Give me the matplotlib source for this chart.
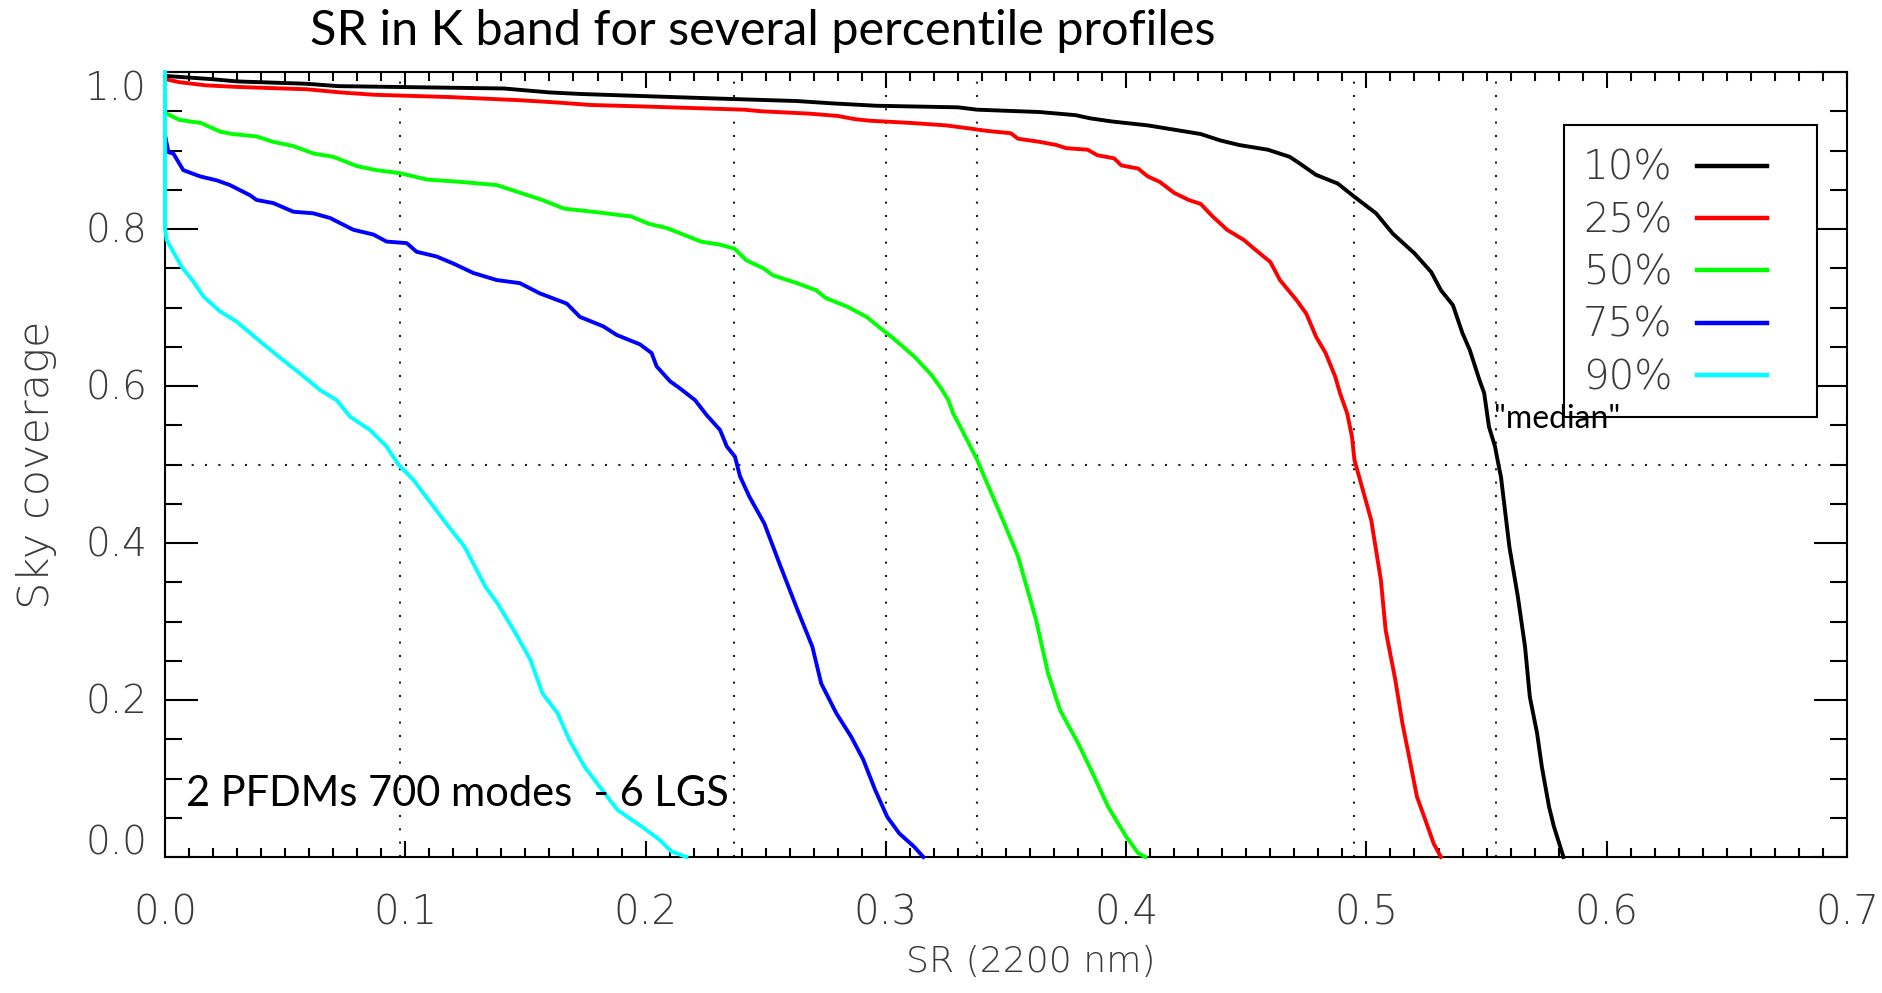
import matplotlib
matplotlib.use("Agg")
import matplotlib.pyplot as plt
from matplotlib.patches import Rectangle
from matplotlib.ticker import MultipleLocator

# Sky coverage vs Strehl ratio (K band), one curve per turbulence percentile profile
sr_10 = [0.0, 0.019, 0.030, 0.059, 0.072, 0.141, 0.160, 0.173, 0.202, 0.232, 0.263, 0.278,
         0.296, 0.330, 0.338, 0.364, 0.379, 0.385, 0.394, 0.409, 0.417, 0.431, 0.439, 0.447,
         0.459, 0.468, 0.472, 0.479, 0.488, 0.495, 0.504, 0.511, 0.520, 0.527, 0.531, 0.536,
         0.540, 0.543, 0.547, 0.549, 0.551, 0.5535, 0.555, 0.556, 0.5595, 0.563, 0.566, 0.568,
         0.571, 0.573, 0.576, 0.578, 0.582]
cov_10 = [0.995, 0.991, 0.988, 0.985, 0.982, 0.979, 0.974, 0.972, 0.969, 0.966, 0.963, 0.960,
          0.957, 0.955, 0.952, 0.949, 0.945, 0.941, 0.937, 0.932, 0.928, 0.921, 0.913, 0.907,
          0.901, 0.892, 0.884, 0.869, 0.858, 0.841, 0.820, 0.794, 0.769, 0.745, 0.722, 0.703,
          0.667, 0.646, 0.608, 0.591, 0.548, 0.523, 0.499, 0.484, 0.395, 0.332, 0.268, 0.204,
          0.158, 0.115, 0.064, 0.039, 0.0]

sr_25 = [0.0, 0.006, 0.017, 0.030, 0.059, 0.073, 0.087, 0.119, 0.148, 0.164, 0.177, 0.200,
         0.241, 0.248, 0.268, 0.280, 0.287, 0.293, 0.311, 0.325, 0.330, 0.335, 0.342, 0.352,
         0.355, 0.364, 0.371, 0.375, 0.384, 0.388, 0.395, 0.398, 0.405, 0.409, 0.414, 0.420,
         0.426, 0.431, 0.436, 0.442, 0.449, 0.454, 0.460, 0.464, 0.471, 0.475, 0.479, 0.483,
         0.487, 0.489, 0.492, 0.494, 0.495, 0.497, 0.502, 0.506, 0.508, 0.512, 0.515, 0.518,
         0.521, 0.525, 0.528, 0.531]
cov_25 = [0.991, 0.987, 0.983, 0.981, 0.978, 0.974, 0.971, 0.968, 0.964, 0.961, 0.958, 0.956,
          0.952, 0.950, 0.947, 0.944, 0.940, 0.938, 0.935, 0.932, 0.930, 0.928, 0.925, 0.922,
          0.915, 0.911, 0.907, 0.903, 0.901, 0.894, 0.890, 0.881, 0.877, 0.867, 0.860, 0.846,
          0.837, 0.832, 0.816, 0.799, 0.786, 0.773, 0.758, 0.735, 0.709, 0.692, 0.663, 0.642,
          0.612, 0.591, 0.565, 0.535, 0.506, 0.484, 0.429, 0.353, 0.289, 0.226, 0.170, 0.124,
          0.077, 0.043, 0.017, 0.0]

sr_50 = [0.0, 0.006, 0.015, 0.023, 0.028, 0.038, 0.045, 0.053, 0.062, 0.070, 0.080, 0.088,
         0.098, 0.109, 0.123, 0.138, 0.145, 0.157, 0.166, 0.178, 0.194, 0.201, 0.209, 0.214,
         0.223, 0.231, 0.237, 0.242, 0.249, 0.253, 0.263, 0.271, 0.275, 0.284, 0.292, 0.298,
         0.303, 0.312, 0.319, 0.323, 0.326, 0.328, 0.331, 0.3345, 0.338, 0.341, 0.3475, 0.355,
         0.3625, 0.3675, 0.3725, 0.380, 0.386, 0.3925, 0.400, 0.405, 0.408]
cov_50 = [0.948, 0.939, 0.935, 0.924, 0.921, 0.918, 0.911, 0.906, 0.896, 0.892, 0.880, 0.875,
          0.871, 0.863, 0.860, 0.856, 0.849, 0.837, 0.826, 0.822, 0.816, 0.807, 0.801, 0.795,
          0.784, 0.780, 0.775, 0.760, 0.750, 0.741, 0.731, 0.722, 0.712, 0.701, 0.688, 0.673,
          0.661, 0.637, 0.614, 0.597, 0.582, 0.565, 0.548, 0.527, 0.506, 0.484, 0.438, 0.383,
          0.302, 0.234, 0.187, 0.145, 0.107, 0.064, 0.026, 0.005, 0.0]

sr_75 = [0.0, 0.0014, 0.0035, 0.0076, 0.0146, 0.0215, 0.027, 0.0354, 0.0381, 0.0451, 0.0534,
         0.0617, 0.0687, 0.0784, 0.0867, 0.0922, 0.1006, 0.1047, 0.1130, 0.1200, 0.1283, 0.1380,
         0.1477, 0.1560, 0.1672, 0.1727, 0.1824, 0.1880, 0.1977, 0.2025, 0.2046, 0.2102, 0.2143,
         0.2206, 0.2254, 0.2310, 0.2338, 0.2372, 0.2393, 0.2432, 0.2494, 0.2557, 0.2632, 0.2694,
         0.2731, 0.2794, 0.2856, 0.2906, 0.2956, 0.3006, 0.3056, 0.3118, 0.3156]
cov_75 = [0.920, 0.898, 0.896, 0.875, 0.867, 0.862, 0.856, 0.843, 0.837, 0.833, 0.822,
          0.820, 0.814, 0.799, 0.793, 0.784, 0.782, 0.771, 0.765, 0.756, 0.744, 0.735,
          0.731, 0.718, 0.705, 0.688, 0.676, 0.665, 0.653, 0.642, 0.625, 0.606, 0.597,
          0.582, 0.563, 0.544, 0.523, 0.510, 0.485, 0.459, 0.425, 0.374, 0.315, 0.268,
          0.221, 0.183, 0.153, 0.124, 0.085, 0.051, 0.030, 0.013, 0.0]

sr_90 = [0.0, 0.0, 0.0007, 0.0069, 0.0118, 0.016, 0.0229, 0.0298, 0.0395, 0.0479, 0.0562,
         0.0645, 0.0714, 0.077, 0.0853, 0.0922, 0.0971, 0.1035, 0.116, 0.1247, 0.1334, 0.1384,
         0.1459, 0.1521, 0.1571, 0.1634, 0.1683, 0.1746, 0.1808, 0.1883, 0.1983, 0.2058,
         0.2108, 0.2170]
cov_90 = [1.0, 0.800, 0.786, 0.752, 0.733, 0.714, 0.695, 0.682, 0.657, 0.636, 0.616,
          0.595, 0.582, 0.561, 0.544, 0.523, 0.500, 0.480, 0.429, 0.395, 0.344, 0.323,
          0.285, 0.251, 0.2085, 0.183, 0.149, 0.115, 0.090, 0.060, 0.039, 0.022,
          0.007, 0.0]

labels = ['10%', '25%', '50%', '75%', '90%']
colors = ['#000000', '#ff0000', '#00ff00', '#0000ff', '#00ffff']

# SR where each profile reaches 50% sky coverage (plus the 0.3 guide)
sr_marks = [0.098, 0.237, 0.300, 0.338, 0.495, 0.554]
median_cov = 0.5

y_ticks = [0.0, 0.2, 0.4, 0.6, 0.8, 1.0]

idl_font = 'DejaVu Sans'
ppt_font = 'Lato'
tick_grey = '#3a3a3a'

fig = plt.figure(figsize=(18.82, 9.93), dpi=100)
ax = fig.add_axes([165 / 1882, 1 - 857 / 993, 1682 / 1882, 785 / 993])

dot_style = (0, (1, 5.4))
for xm in sr_marks:
    ax.axvline(xm, color='#222222', lw=1.5, linestyle=dot_style, zorder=1)
ax.axhline(median_cov, color='#222222', lw=1.5, linestyle=dot_style, zorder=1)

curves = [(sr_10, cov_10), (sr_25, cov_25), (sr_50, cov_50), (sr_75, cov_75), (sr_90, cov_90)]
handles = []
for (xs, ys), lab, col in zip(curves, labels, colors):
    h, = ax.plot(xs, ys, color=col, lw=2.8, label=lab, zorder=3, clip_on=False)
    handles.append(h)

ax.set_xlim(0.0, 0.7)
ax.set_ylim(0.0, 1.0)
ax.xaxis.set_major_locator(MultipleLocator(0.1))
ax.xaxis.set_minor_locator(MultipleLocator(0.01))
ax.set_yticks(y_ticks)
ax.yaxis.set_minor_locator(MultipleLocator(0.05))
ax.xaxis.set_major_formatter(lambda v, p: f'{v:.1f}')

ax.tick_params(axis='both', which='both', direction='in', top=True, right=True,
               colors='black', labelcolor=tick_grey, width=1.5)
ax.tick_params(axis='x', which='major', length=11.5, pad=26, labelsize=29)
ax.tick_params(axis='x', which='minor', length=6.5)
ax.tick_params(axis='y', which='major', length=24, labelleft=False)
ax.tick_params(axis='y', which='minor', length=12)
for lbl in ax.get_xticklabels():
    lbl.set_family(idl_font)
    lbl.set_fontweight('light')

# y labels drawn by hand: the end ones are pulled inside the frame
for v in y_ticks:
    dy = -2
    if v == y_ticks[0]:
        dy = 10
    elif v == y_ticks[-1]:
        dy = -12.5
    ax.annotate(f'{v:.1f}', xy=(0, v), xycoords=ax.get_yaxis_transform(),
                xytext=(-13, dy), textcoords='offset points', ha='right', va='center',
                fontsize=28, family=idl_font, fontweight='light', color=tick_grey,
                annotation_clip=False)

for sp in ax.spines.values():
    sp.set_linewidth(1.5)

ax.set_xlabel('SR (2200 nm)', fontsize=26, family=idl_font, fontweight='light', color=tick_grey)
ax.xaxis.set_label_coords(0.515, -0.112)
ax.set_ylabel('Sky coverage', fontsize=31, family=idl_font, fontweight='light', color=tick_grey)
ax.yaxis.set_label_coords(-0.064, 0.5)

# legend: frameless entries inside a square box
ax.add_patch(Rectangle((0.832, 0.5605), 0.150, 0.372, transform=ax.transAxes,
                       facecolor='white', edgecolor='black', lw=1.5, zorder=4))
leg = ax.legend(handles=handles, loc='upper left', bbox_to_anchor=(0.843, 0.902),
                frameon=False, markerfirst=False, borderpad=0, borderaxespad=0,
                handlelength=1.75, handletextpad=0.6, labelspacing=0.33,
                prop={'family': idl_font, 'weight': 'light', 'size': 29})
leg.set_zorder(5)
for t in leg.get_texts():
    t.set_color(tick_grey)
for lh in leg.get_lines():
    lh.set_linewidth(3.2)

ax.text(0.553, 0.5465, '"median"', fontsize=23, family=ppt_font, color='black',
        va='baseline', ha='left', zorder=6)
ax.text(0.0087, 0.065, '2 PFDMs 700 modes  - 6 LGS', fontsize=30, family=ppt_font,
        color='black', va='baseline', ha='left', zorder=6)

fig.text(310 / 1882, 1 - 45 / 993, 'SR in K band for several percentile profiles',
         fontsize=35, family=ppt_font, color='black', va='baseline', ha='left')

fig.savefig('out.png', dpi=100, facecolor='white')
